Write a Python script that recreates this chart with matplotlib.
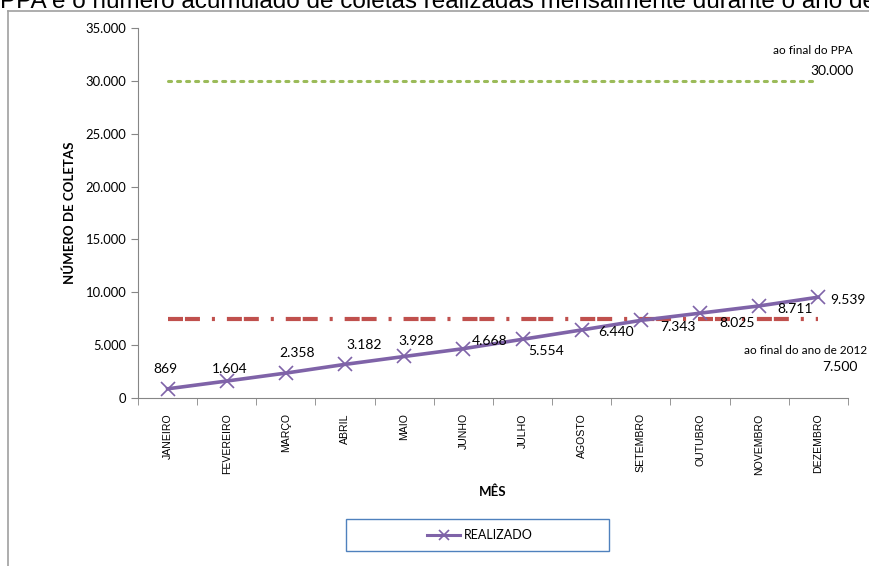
import matplotlib
matplotlib.use("Agg")
import matplotlib.pyplot as plt
from matplotlib.lines import Line2D
from matplotlib.patches import Rectangle
from matplotlib.ticker import FuncFormatter, FixedLocator

meses = ["JANEIRO", "FEVEREIRO", "MARÇO", "ABRIL", "MAIO", "JUNHO",
         "JULHO", "AGOSTO", "SETEMBRO", "OUTUBRO", "NOVEMBRO", "DEZEMBRO"]
realizado = [869, 1604, 2358, 3182, 3928, 4668, 5554, 6440, 7343, 8025, 8711, 9539]
meta_ppa = [30000] * 12
meta_2012 = [7500] * 12

# label offsets in pixels (dx, dy)
offsets = [(-2, 20), (3, 12), (11, 20), (19, 19), (12, 15), (26, 8),
           (24, -12), (34, -2), (37, -7), (37, -10), (36, -3), (30, -3)]

plt.rcParams["font.family"] = ["Lato", "DejaVu Sans"]
plt.rcParams["lines.scale_dashes"] = False

fig = plt.figure(figsize=(8.7, 5.66), dpi=100)
ax = fig.add_axes([138 / 870, 1 - 398 / 566, 710 / 870, 370 / 566])

x = list(range(len(meses)))
purple = "#7f63a8"

ax.plot(x, meta_ppa, color="#9bbb59", lw=2.2, dashes=[2.2, 4.3],
        dash_capstyle="round")
ax.plot(x, meta_2012, color="#c0504d", lw=3.0,
        dashes=[10.8, 1.4, 10.8, 8.6, 2.2, 8.6])
ax.plot(x, realizado, color=purple, lw=2.6, marker="x", markersize=10,
        markeredgewidth=1.2, zorder=3)

for xi, v, (dx, dy) in zip(x, realizado, offsets):
    lbl = f"{v:,}".replace(",", ".")
    ax.annotate(lbl, (xi, v), xytext=(dx, dy), textcoords="offset pixels",
                ha="center", va="center", fontsize=10)

ax.set_xlim(-0.5, 11.5)
ax.set_ylim(0, 35000)
ax.set_yticks(range(0, 35001, 5000))
ax.yaxis.set_major_formatter(FuncFormatter(lambda v, p: f"{int(v):,}".replace(",", ".")))
ax.set_xticks(x)
ax.set_xticklabels(meses, rotation=90, fontsize=7.6, family="Liberation Sans")
ax.xaxis.set_minor_locator(FixedLocator([i - 0.5 for i in range(13)]))
ax.tick_params(axis="x", which="major", length=0, pad=11)
ax.tick_params(axis="x", which="minor", length=5, color="#868686", direction="out")
ax.tick_params(axis="y", length=5, color="#868686", labelsize=9.4)

for s in ["top", "right"]:
    ax.spines[s].set_visible(False)
for s in ["left", "bottom"]:
    ax.spines[s].set_color("#868686")

ax.set_ylabel("NÚMERO DE COLETAS", fontsize=9.5, fontweight="bold", labelpad=7)
ax.set_xlabel("MÊS", fontsize=9.5, fontweight="bold", labelpad=8)

fig.text(853 / 870, 1 - 51 / 566, "ao final do PPA", ha="right", va="center", fontsize=8.5)
fig.text(854 / 870, 1 - 71 / 566, "30.000", ha="right", va="center", fontsize=10)
fig.text(867 / 870, 1 - 351 / 566, "ao final do ano de 2012", ha="right", va="center", fontsize=8.5)
fig.text(858 / 870, 1 - 367 / 566, "7.500", ha="right", va="center", fontsize=10)

# title cut off at the top of the image
fig.text(0.0, 1 - 8 / 566, "PPA e o número acumulado de coletas realizadas mensalmente durante o ano de",
         ha="left", va="baseline", fontsize=17.5, family="Liberation Sans")

# chart area border
fig.add_artist(Line2D([8 / 870, 8 / 870], [0, 1 - 11 / 566], transform=fig.transFigure,
                      color="#a0a0a0", lw=1.2))
fig.add_artist(Line2D([8 / 870, 1], [1 - 11 / 566, 1 - 11 / 566], transform=fig.transFigure,
                      color="#a0a0a0", lw=1.2))

# legend box (wider than its content, as in the original)
fig.add_artist(Rectangle((346 / 870, 1 - 551 / 566), 263 / 870, 32 / 566,
                         transform=fig.transFigure, fill=False,
                         edgecolor="#4f81bd", lw=1))
handle = Line2D([], [], color=purple, lw=2.2, marker="x", markersize=7, markeredgewidth=1.2)
fig.legend([handle], ["REALIZADO"], loc="center", bbox_to_anchor=(480 / 870, 1 - 535 / 566),
           frameon=False, fontsize=9, handlelength=2.6, handletextpad=0.3)

fig.savefig("out.png", dpi=100)
